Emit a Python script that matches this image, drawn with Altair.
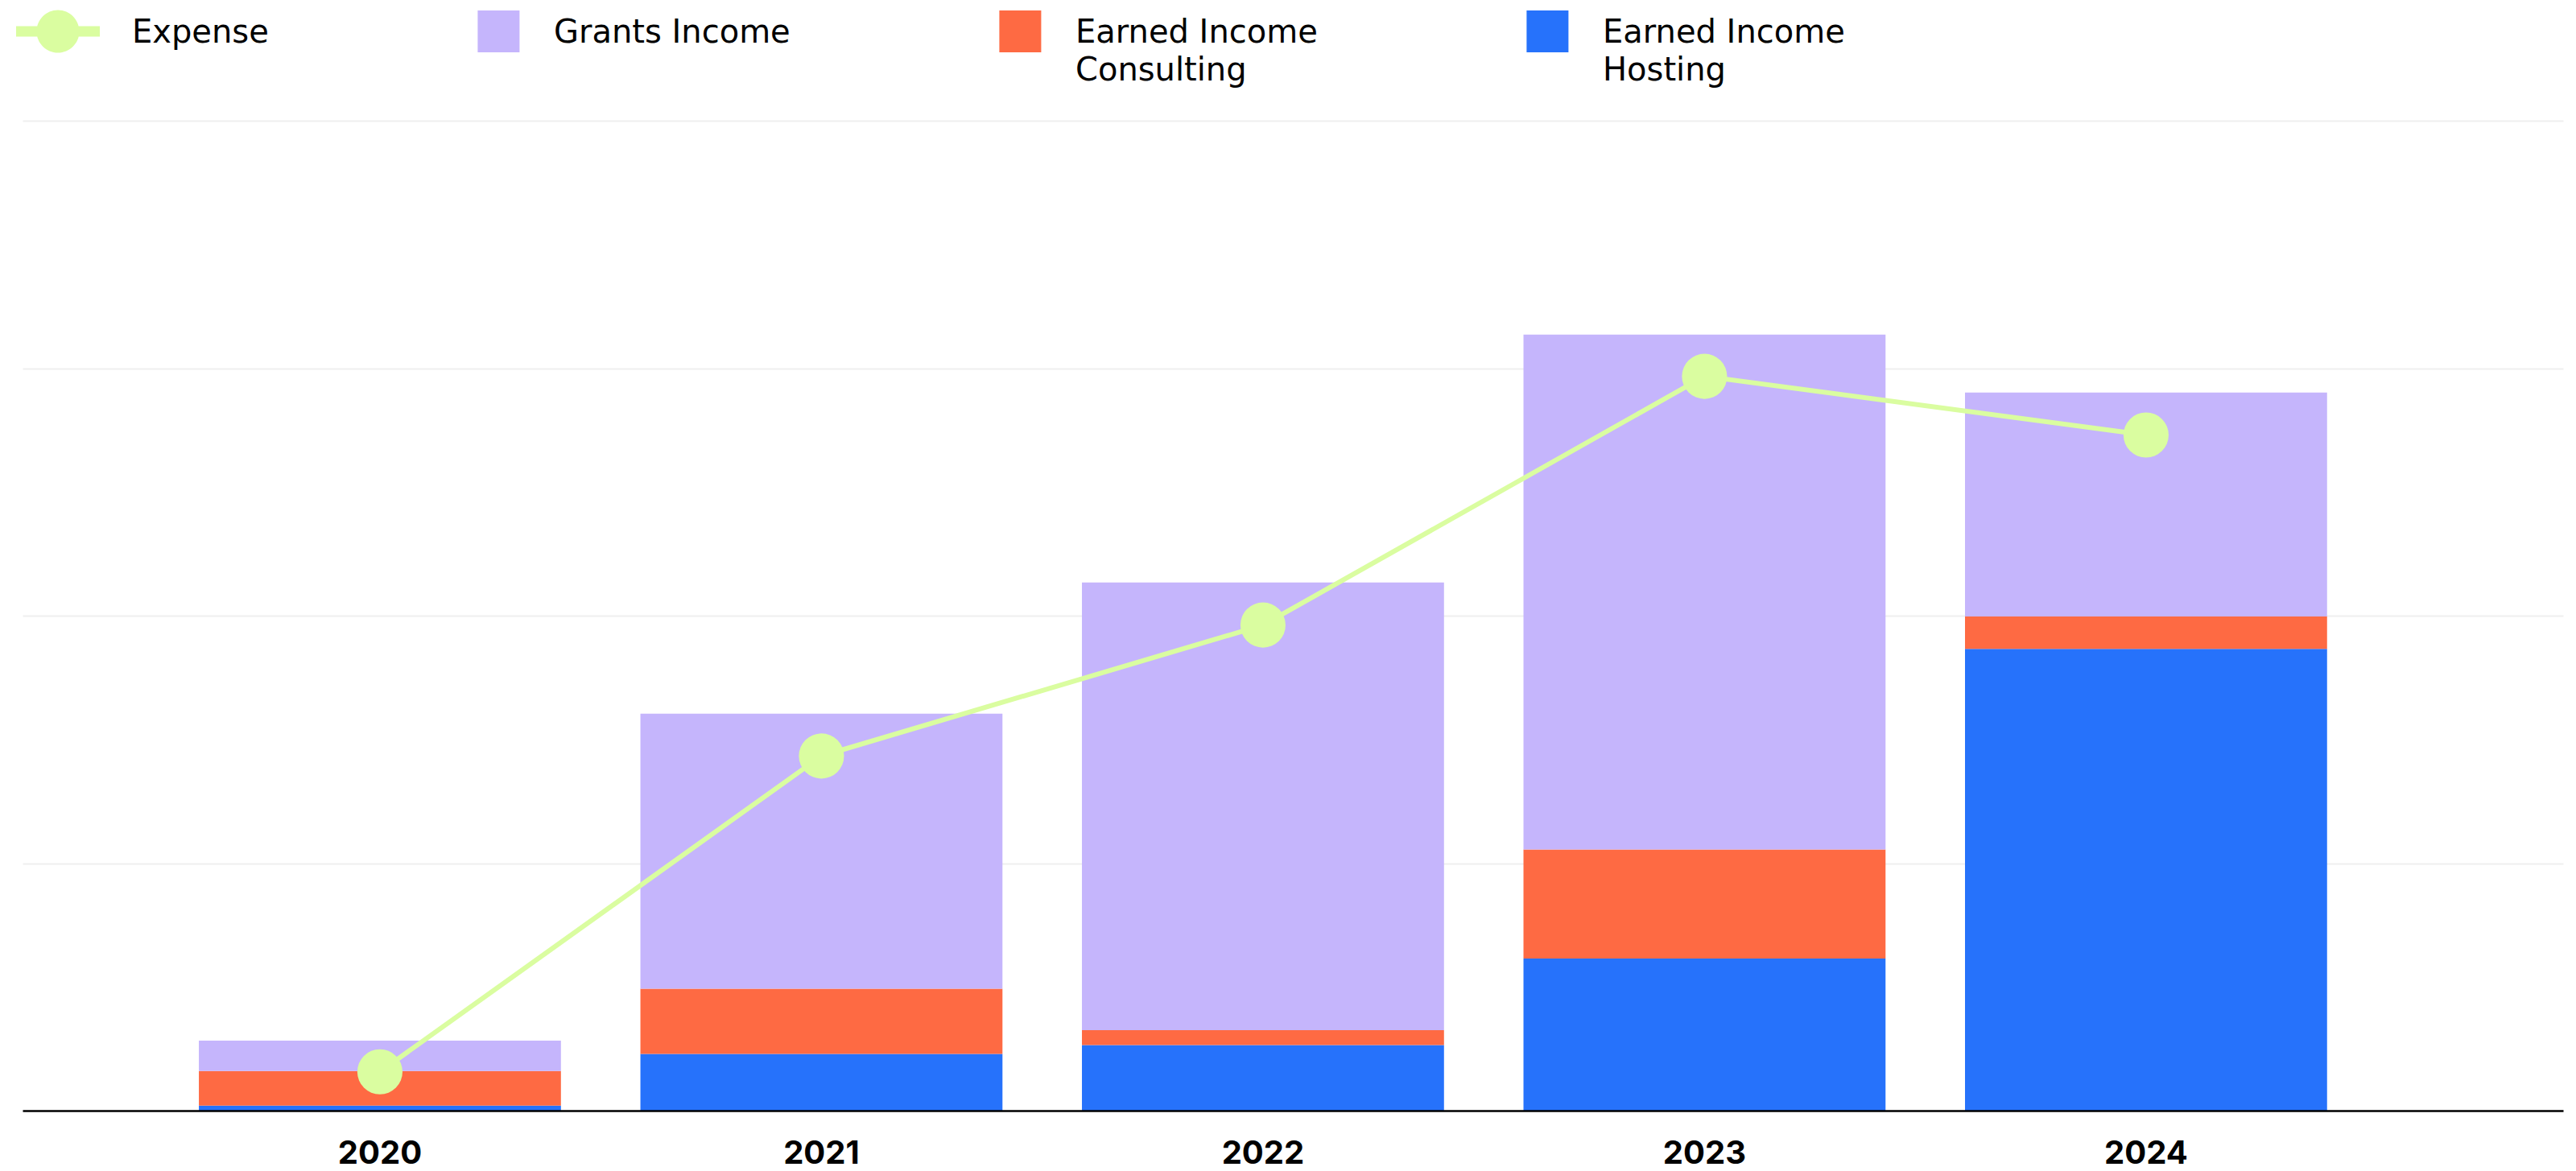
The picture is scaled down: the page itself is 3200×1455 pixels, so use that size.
import altair as alt
import pandas as pd

years = ["2020", "2021", "2022", "2023", "2024"]
hosting = [2.0, 22.9, 26.5, 61.5, 186.6]
consulting = [14.0, 26.4, 6.0, 44.0, 13.1]
grants = [12.3, 111.1, 180.9, 208.1, 90.5]
expense = [15.7, 143.3, 196.2, 296.7, 273.0]

series = ["Expense", "Grants Income", "Earned Income Consulting", "Earned Income Hosting"]
colors = ["#DAFDA0", "#C5B5FC", "#FE6A43", "#2672FB"]

rows = []
for i, yr in enumerate(years):
    rows.append({"year": yr, "series": "Earned Income Hosting", "value": hosting[i], "order": 0})
    rows.append({"year": yr, "series": "Earned Income Consulting", "value": consulting[i], "order": 1})
    rows.append({"year": yr, "series": "Grants Income", "value": grants[i], "order": 2})
bars_df = pd.DataFrame(rows)
exp_df = pd.DataFrame({"year": years, "value": expense, "series": ["Expense"] * len(years)})

AXIS_FONT = "Inter"
LEGEND_FONT = "DejaVu Sans"
EXP_PATH = "M-1,-0.125H1V0.125H-1Z M-0.51,0A0.51,0.51 0 1,1 0.51,0A0.51,0.51 0 1,1 -0.51,0Z"
SQ_PATH = "M-0.05,-0.5H0.95V0.5H-0.05Z"

legend = alt.Legend(
    title=None, orient="none", legendX=-8, legendY=-163, direction="horizontal",
    columns=4, columnPadding=210, symbolSize=10816, symbolStrokeWidth=0,
    symbolType={"expr": f"datum.value === 'Expense' ? '{EXP_PATH}' : '{SQ_PATH}'"},
    symbolFillColor={"expr": "scale('color', datum.value)"},
    symbolOpacity=1,
    labelOffset=40, labelFontSize=40, labelFont=LEGEND_FONT, labelColor="#000000",
    labelLimit=0, labelBaseline="alphabetic", padding=0,
    labelExpr=("datum.label == 'Earned Income Consulting' ? ['Earned Income', 'Consulting'] : "
               "datum.label == 'Earned Income Hosting' ? ['Earned Income', 'Hosting'] : "
               "[datum.label, ' ']"),
)

color = alt.Color("series:N", scale=alt.Scale(domain=series, range=colors), legend=legend)

x = alt.X(
    "year:N",
    scale=alt.Scale(paddingInner=0.18, paddingOuter=0.467, align=0.4276),
    axis=alt.Axis(title=None, labelAngle=0, labelFontWeight="bold", labelFontSize=40,
                  labelFont=AXIS_FONT, labelColor="#000000", ticks=False, domainColor="#000000",
                  domainWidth=2.5, labelPadding=19, grid=False, zindex=1),
)
yaxis = alt.Axis(title=None, labels=False, ticks=False, domain=False,
                 values=[0, 100, 200, 300, 400], gridColor="#EFEFEF", gridWidth=2)
yscale = alt.Scale(domain=[0, 400], nice=False)

bars = alt.Chart(bars_df).mark_bar().encode(
    x=x,
    y=alt.Y("value:Q", stack="zero", scale=yscale, axis=yaxis),
    color=color,
    order=alt.Order("order:Q"),
)

line = alt.Chart(exp_df).mark_line(strokeWidth=6).encode(
    x=x, y=alt.Y("value:Q", scale=yscale, axis=yaxis), color=color,
)
points = alt.Chart(exp_df).mark_point(filled=True, size=3150, opacity=1).encode(
    x=x, y=alt.Y("value:Q", scale=yscale, axis=yaxis), color=color,
)

chart = alt.layer(bars, line, points).properties(
    width=3156, height=1230,
    autosize=alt.AutoSizeParams(type="none"),
    padding={"left": 20, "top": 142, "right": 8, "bottom": 75},
    background="white",
).configure(
    view={"stroke": None},
    style={"guide-label": {"lineHeight": 47, "dy": 14}},
)

chart.save("out.html", embed_options={"renderer": "svg", "actions": False})
